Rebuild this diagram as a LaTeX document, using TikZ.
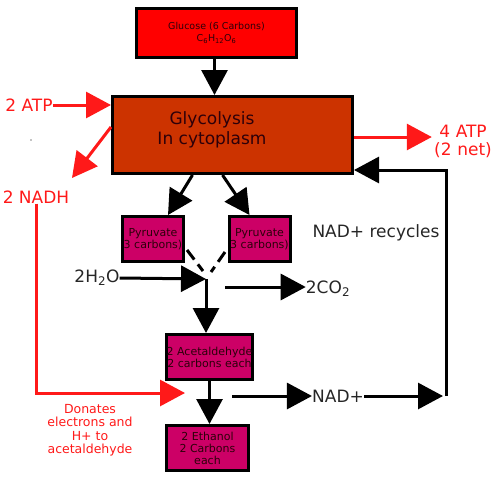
\documentclass[tikz,border=0pt]{standalone}
\usepackage{fontspec}
\setmainfont{DejaVu Sans}
\usetikzlibrary{arrows.meta}
\definecolor{glucosered}{RGB}{255,0,0}
\definecolor{glycobrown}{RGB}{204,51,0}
\definecolor{pyrumag}{RGB}{204,0,102}
\definecolor{atpred}{RGB}{255,25,25}
\definecolor{boxtext}{RGB}{45,0,10}
\begin{document}
\begin{tikzpicture}[x=1pt,y=-1pt,
	box/.style={draw=black,line width=3pt,inner sep=0pt,align=center,text=boxtext},
	smallbox/.style={box,fill=pyrumag,minimum width=61pt,minimum height=45pt,font=\fontsize{11}{12}\selectfont},
	flow/.style={line width=3pt,-{Triangle[length=25pt,width=26pt]}},
	redflow/.style={flow,atpred},
	bigtext/.style={font=\fontsize{17}{19}\selectfont,text=black!85,inner sep=0pt},
	redtext/.style={font=\fontsize{17}{18}\selectfont,text=atpred,inner sep=0pt,align=center}]
			\useasboundingbox (0,0) rectangle (498,480);
			% boxes
			\node [box,fill=glucosered,minimum width=160pt,minimum height=49pt,font=\fontsize{9.5}{12}\selectfont] (glucose) at (216.5,33) {Glucose (6 Carbons)\\C\textsubscript{6}H\textsubscript{12}O\textsubscript{6}};
			\node [box,fill=glycobrown,minimum width=240pt,minimum height=77pt] (glyco) at (232.5,135) {};
			\node [font=\fontsize{17}{20}\selectfont,text=boxtext,align=center,inner sep=0pt] (glycotext) at (212,130) {Glycolysis\\In cytoplasm};
			\node [smallbox] (pyrL) at (153,239) {Pyruvate\\3 carbons)};
			\node [smallbox] (pyrR) at (259.5,239) {Pyruvate\\3 carbons)};
			\node [smallbox,minimum width=82pt] (acet) at (209.5,357) {2 Acetaldehyde\\2 carbons each};
			\node [smallbox,minimum width=82pt] (eth) at (207.5,448) {2 Ethanol\\2 Carbons\\each};
			% labels
			\node [redtext] (atpin) at (29,105) {2 ATP};
			\node [redtext] (nadh) at (36,197) {2 NADH};
			\node [redtext,text width=62pt] (atpout) at (463,141) {4 ATP\\(2 net)};
			\node [redtext,font=\fontsize{12.5}{13.5}\selectfont] (donate) at (90,430) {Donates\\electrons and\\H+ to\\acetaldehyde};
			\node [bigtext] (water) at (97,278) {2H\textsubscript{2}O};
			\node [bigtext] (co2) at (328,289) {2CO\textsubscript{2}};
			\node [bigtext] (nadplus) at (338,396) {NAD+};
			\node [bigtext] (recycle) at (376,233) {NAD+ recycles};
			\coordinate (nadhtip) at (72,178);
			\coordinate (donatetip) at (185,393);
			\coordinate (mix) at (206,279);
			\coordinate (co2start) at (225,287);
			\coordinate (nadstart) at (232,396);
			\coordinate (loopbot) at (446,396);
			\coordinate (looptop) at (446,170);
			% arrows
			\draw [flow] ([xshift=-2pt]glucose.south) -- ([xshift=-2pt]glucose.south |- glyco.north);
			\draw [redflow] (atpin.east) -- (atpin -| glyco.west);
			\draw [redflow] ([yshift=8pt]glyco.west) -- (nadhtip);
			\draw [redflow] (nadh.south) |- (donatetip);
			\draw [redflow] ([yshift=-2pt]glyco.east) -- ([yshift=-2pt]glyco.east -| atpout.west);
			\draw [flow] ([xshift=-40pt]glyco.south) -- ([xshift=15pt]pyrL.north);
			\draw [flow] ([xshift=-10pt]glyco.south) -- ([xshift=-10pt]pyrR.north);
			\draw [line width=3pt,dash pattern=on 12pt off 6pt] (187,250) -- (203,271);
			\draw [line width=3pt,dash pattern=on 12pt off 6pt] (225,252) -- (211,272);
			\draw [flow] (water.east) -- (mix);
			\draw [flow] (mix) -- (mix |- acet.north);
			\draw [flow] (co2start) -- (co2.west |- co2start);
			\draw [flow] (acet.south) -- (acet.south |- eth.north);
			\draw [flow] (nadstart) -- (nadplus.west);
			\draw [flow] (nadplus.east) -- ([xshift=-3pt]loopbot);
			\draw [flow] (loopbot) -- (looptop) -- (looptop -| glyco.east);
			\fill (31,140) circle (0.6pt);
\end{tikzpicture}
\end{document}
